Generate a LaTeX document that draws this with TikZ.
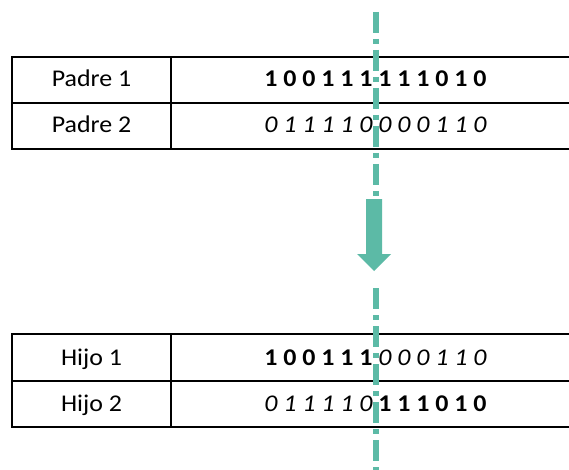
\documentclass[tikz,border=0pt]{standalone}
\usepackage{fontspec}
\setmainfont{Carlito}
\definecolor{cutteal}{HTML}{5CBAA6}
\newcommand{\wide}[1]{\scalebox{1.08}[1]{#1}}
\begin{document}
\begin{tikzpicture}[x=1pt,y=-1pt,
  grid/.style={draw=black, line width=1.8pt},
  cell/.style={anchor=base, inner sep=0pt, font=\fontsize{24}{28}\selectfont},
  cutline/.style={draw=cutteal, line width=6pt, dash pattern=on 21pt off 6pt on 5pt off 6pt},
  bigarrow/.style={fill=cutteal, draw=none}]
\clip (0,0) rectangle (569,470);
\fill[white] (0,0) rectangle (569,470);

% parents table
\draw[grid] (12,57) rectangle (580,149);
\draw[grid] (12,103) -- (580,103);
\draw[grid] (171,57) -- (171,149);
\node[cell] (p1) at (91.5,87) {\wide{Padre 1}};
\node[cell] (p2) at (91.5,133) {\wide{Padre 2}};
\node[cell] (p1bits) at (375.5,87) {\wide{\bfseries 1 0 0 1 1 1 1 1 1 0 1 0}};
\node[cell] (p2bits) at (375.5,133) {\wide{\itshape 0 1 1 1 1 0 0 0 0 1 1 0}};

% children table
\draw[grid] (12,334) rectangle (580,427);
\draw[grid] (12,381) -- (580,381);
\draw[grid] (171,334) -- (171,427);
\node[cell] (h1) at (91.5,365) {\wide{Hijo 1}};
\node[cell] (h2) at (91.5,411) {\wide{Hijo 2}};
\node[cell] (h1bits) at (375.5,365) {\wide{{\bfseries 1 0 0 1 1 1} {\itshape 0 0 0 1 1 0}}};
\node[cell] (h2bits) at (375.5,411) {\wide{{\itshape 0 1 1 1 1 0} {\bfseries 1 1 1 0 1 0}}};

% crossover arrow
\fill[bigarrow] (366,199) -- (382,199) -- (382,254) -- (391,254) -- (374,271)
  -- (357,254) -- (366,254) -- cycle;

% cut point
\coordinate (cutA) at (376,12);
\coordinate (cutB) at (376,196);
\coordinate (cutC) at (376,288);
\coordinate (cutD) at (376,474);
\draw[cutline] (cutA) -- (cutB);
\draw[cutline] (cutC) -- (cutD);
\end{tikzpicture}
\end{document}
